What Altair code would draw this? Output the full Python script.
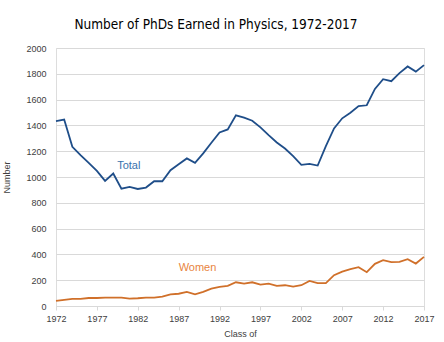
import altair as alt
import pandas as pd

years = list(range(1972, 2018))
total = [1434, 1445, 1234, 1169, 1110, 1047, 970, 1027, 910, 923, 907, 918, 967, 967,
         1053, 1099, 1144, 1110, 1183, 1265, 1345, 1369, 1478, 1460, 1436, 1385, 1325,
         1268, 1221, 1162, 1094, 1102, 1089, 1239, 1377, 1455, 1498, 1550, 1556, 1683,
         1758, 1743, 1805, 1857, 1817, 1867]
women = [40, 48, 55, 55, 62, 62, 65, 65, 65, 57, 60, 65, 65, 72, 90, 95, 110, 91, 110,
         135, 148, 156, 184, 174, 184, 166, 174, 156, 161, 150, 161, 195, 177, 177, 239,
         267, 285, 301, 262, 327, 355, 340, 342, 363, 329, 381]
series_names = ["Total", "Women"]
series_colors = ["#1f4e89", "#d0702a"]
label_text = ["Total", "Women"]
label_year = [1980.9, 1989.3]
label_value = [1084, 296]
label_colors = ["#3a72ad", "#e8843e"]
x_ticks = list(range(1972, 2018, 5))
y_ticks = list(range(0, 2001, 200))

df = pd.DataFrame({
    "year": years * 2,
    "value": total + women,
    "series": [series_names[0]] * len(years) + [series_names[1]] * len(years),
})
labels = pd.DataFrame({"text": label_text, "year": label_year, "value": label_value,
                       "color": label_colors})

font = "Liberation Sans"

x = alt.X("year:Q", title="Class of",
          scale=alt.Scale(domain=[1972, 2017], nice=False, zero=False),
          axis=alt.Axis(values=x_ticks, format="d", grid=False, domain=True,
                        domainColor="#d9d9d9", tickColor="#d9d9d9", tickSize=4,
                        labelFontSize=9, labelColor="#404040", labelFont=font,
                        labelOverlap=False, labelFlush=False, labelBound=False,
                        titleFontSize=9, titleColor="#404040", titleFont=font,
                        titleFontWeight="normal", labelPadding=4, titlePadding=6))
y = alt.Y("value:Q", title="Number",
          scale=alt.Scale(domain=[0, 2000], nice=False),
          axis=alt.Axis(values=y_ticks, format="d", grid=True, gridColor="#d9d9d9",
                        domain=False, ticks=False, labelFontSize=9, labelColor="#404040",
                        labelOverlap=False, labelFlush=False, labelBound=False,
                        labelFont=font, labelPadding=10, titleFontSize=9,
                        titleColor="#404040", titleFont=font, titleFontWeight="normal",
                        titlePadding=14))

lines = alt.Chart(df).mark_line(strokeWidth=1.8).encode(
    x=x, y=y,
    color=alt.Color("series:N", scale=alt.Scale(domain=series_names, range=series_colors),
                    legend=None),
)

text = alt.Chart(labels).mark_text(fontSize=11, font=font).encode(
    x=x, y=y,
    text="text:N",
    color=alt.Color("color:N", scale=None),
)

chart = alt.layer(lines, text).properties(
    width=368, height=258,
    title=alt.TitleParams("Number of PhDs Earned in Physics, 1972-2017",
                          fontSize=13.5, font="DejaVu Sans Condensed", fontWeight="normal",
                          color="#000000", anchor="middle", dx=-24, offset=13),
    autosize=alt.AutoSizeParams(type="none"),
    padding={"left": 56, "top": 48, "right": 20, "bottom": 36},
).configure_view(stroke=None).configure(background="white")

chart.save("out.html", embed_options={"renderer": "svg", "actions": False})
